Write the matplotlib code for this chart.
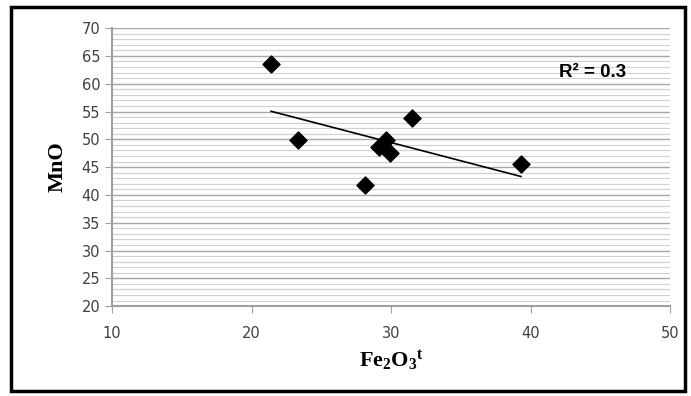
import numpy as np
import matplotlib.pyplot as plt
from matplotlib.patches import Rectangle
from matplotlib.ticker import MultipleLocator

# Fe2O3t vs MnO
fe2o3 = [21.4, 23.3, 28.1, 29.1, 29.6, 29.9, 31.5, 39.3]
mno = [63.6, 49.8, 41.7, 48.6, 49.9, 47.5, 53.8, 45.5]
r2_text = 'R² = 0.3'

plt.rcParams['mathtext.fontset'] = 'custom'
plt.rcParams['mathtext.bf'] = 'Liberation Serif:bold'
plt.rcParams['mathtext.rm'] = 'Liberation Serif'

fig = plt.figure(figsize=(6.91, 3.96), dpi=100)
ax = fig.add_axes([0.162, 0.227, 0.808, 0.702])

# gridlines
ax.yaxis.set_major_locator(MultipleLocator(5))
ax.yaxis.set_minor_locator(MultipleLocator(1))
ax.grid(axis='y', which='major', color='#a6a6a6', linewidth=1.0)
ax.grid(axis='y', which='minor', color='#d0d0d0', linewidth=0.8)
ax.set_axisbelow(True)

ax.scatter(fe2o3, mno, marker='D', s=75, color='black', zorder=3)

# linear trendline
k, b = np.polyfit(fe2o3, mno, 1)
xs = np.array([min(fe2o3), max(fe2o3)])
ax.plot(xs, k * xs + b, color='black', linewidth=1.2, zorder=2)

ax.set_xlim(10, 50)
ax.set_ylim(20, 70)
ax.set_xticks([10, 20, 30, 40, 50])
ax.tick_params(axis='y', which='minor', length=0)
ax.tick_params(axis='both', which='major', colors='#a0a0a0', labelcolor='#404040',
               labelsize=10.5, length=5)
ax.tick_params(axis='x', which='major', pad=9)

for s in ['top', 'right']:
    ax.spines[s].set_visible(False)
for s in ['left', 'bottom']:
    ax.spines[s].set_color('#a0a0a0')
    ax.spines[s].set_linewidth(1.5)

ax.set_ylabel('MnO', fontsize=16, fontweight='bold', family='Liberation Serif', labelpad=10)
ax.set_xlabel(r'$\mathbf{Fe_2O_3{}^t}$', fontsize=16, labelpad=6)

ax.text(0.80, 0.842, r2_text, transform=ax.transAxes, fontsize=13.5, fontweight='bold',
        family='Liberation Sans', ha='left', va='center')

fig.patches.append(Rectangle((0.016, 0.012), 0.976, 0.97, transform=fig.transFigure,
                             fill=False, edgecolor='black', linewidth=2.5))

plt.savefig('out.png', dpi=100)
